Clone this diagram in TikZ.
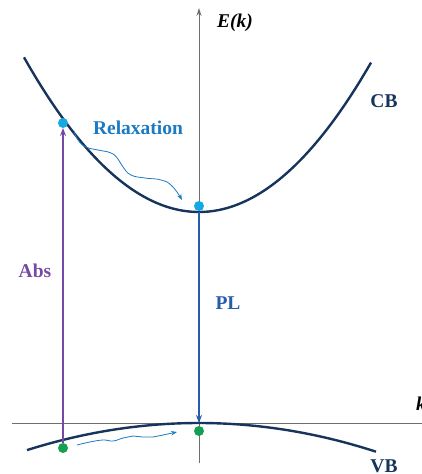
\documentclass[tikz,border=0pt]{standalone}
\usepackage{fontspec}
\setmainfont{Liberation Serif}
\usetikzlibrary{arrows.meta}
\definecolor{band}{RGB}{22,52,92}
\definecolor{axisgray}{RGB}{110,110,110}
\definecolor{absc}{RGB}{118,74,164}
\definecolor{plc}{RGB}{38,92,172}
\definecolor{relc}{RGB}{28,122,194}
\definecolor{cyandot}{RGB}{20,170,225}
\definecolor{greendot}{RGB}{20,160,80}
\tikzset{
  lbl/.style={font=\fontsize{19.5}{22}\selectfont\bfseries, anchor=base, inner sep=0pt},
  bandline/.style={band, line width=2.4pt},
  axisline/.style={axisgray, line width=0.9pt},
  dot/.style={circle, inner sep=0pt, minimum size=10pt},
  tip/.style={-{Stealth[length=8pt,width=6pt]}},
  wave/.style={relc, line width=0.8pt, -{Stealth[length=6pt,width=4.5pt]}}
}
\begin{document}
\begin{tikzpicture}[x=1pt,y=-1pt]
\useasboundingbox (0,0) rectangle (422,474);
% axes
\coordinate (ybot) at (199,463);
\coordinate (ytop) at (199,8);
\coordinate (xl) at (12,423);
\coordinate (xr) at (430,423);
\draw[axisline, -{Stealth[length=8pt,width=5pt]}] (ybot) -- (ytop);
\draw[axisline] (xl) -- (xr);
\node[lbl, font=\fontsize{19.5}{22}\selectfont\bfseries\itshape] (Ek) at (235,27) {E(k)};
\node[lbl, font=\fontsize{19.5}{22}\selectfont\bfseries\itshape, anchor=base west] (kl) at (416,410) {k};
% bands
\draw[bandline, domain=24:371, samples=80, smooth] plot (\x, {212-0.00505*(\x-199)*(\x-199)});
\draw[bandline, domain=27:376, samples=60, smooth] plot (\x, {423+0.00091*(\x-199)*(\x-199)});
\node[lbl, band] (CB) at (384,107) {CB};
\node[lbl, band] (VB) at (384,472) {VB};
% dots
\node[dot, fill=greendot] (g1) at (63,448) {};
\node[dot, fill=greendot] (g2) at (199,431) {};
% transitions
\coordinate (absTop) at (63,128);
\draw[absc, line width=1.8pt, tip] (g1.north) -- (absTop);
\coordinate (plTop) at (199,212);
\coordinate (plBot) at (199,423);
\draw[plc, line width=1.8pt, tip] (plTop) -- (plBot);
\node[dot, fill=cyandot] (c1) at (63,123) {};
\node[dot, fill=cyandot] (c2) at (199,206) {};
\node[lbl, absc] (Abs) at (35,277) {Abs};
\node[lbl, plc] (PL) at (228,309) {PL};
\node[lbl, relc] (Rel) at (138,134) {Relaxation};
% relaxation wavy arrows
\draw[wave] plot[smooth, tension=0.8] coordinates {(74,131) (78,140) (86,147) (98,150) (111,153) (118,159) (123,167) (131,175) (145,178) (161,180) (172,186) (182,200)};
\draw[wave] plot[smooth, tension=0.8] coordinates {(77,445) (90,442) (103,440) (113,441) (123,438) (133,436) (143,437) (153,437) (163,435) (177,432)};
\end{tikzpicture}
\end{document}
